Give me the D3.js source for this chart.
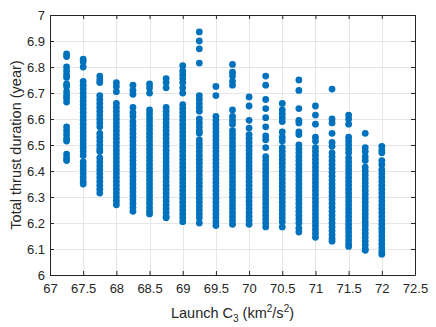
<!DOCTYPE html>
<html>
<head>
<meta charset="utf-8">
<script src="https://cdn.jsdelivr.net/npm/d3@7"></script>
<style>
  body { margin: 0; background: #fff; }
  svg { display: block; font-family: "Liberation Sans", Arial, sans-serif; }
</style>
</head>
<body>
<script>
// launch C3 values (one column of points each)
var c3Values = [67.25, 67.5, 67.75, 68, 68.25, 68.5, 68.75, 69, 69.25, 69.5,
                69.75, 70, 70.25, 70.5, 70.75, 71, 71.25, 71.5, 71.75, 72];

// total thrust duration (year)
var dur6725 = [6.85, 6.84, 6.80, 6.785, 6.77, 6.76, 6.735, 6.725, 6.705, 6.69, 6.68, 6.665,
               6.57, 6.555, 6.54, 6.525, 6.515, 6.465, 6.45, 6.44];
var dur6750 = [6.83, 6.82, 6.80, 6.745, 6.73, 6.715, 6.70, 6.685, 6.67, 6.655, 6.64, 6.625,
               6.61, 6.595, 6.58, 6.565, 6.55, 6.535, 6.52, 6.505, 6.49, 6.475, 6.46,
               6.435, 6.42, 6.405, 6.39, 6.375, 6.36, 6.35];
var dur6775 = [6.765, 6.75, 6.74, 6.69, 6.675, 6.66, 6.645, 6.63, 6.615, 6.60, 6.585, 6.57,
               6.545, 6.53, 6.515, 6.50, 6.485, 6.475, 6.45, 6.435, 6.42, 6.405, 6.39,
               6.375, 6.36, 6.345, 6.33, 6.315];
var dur6800 = [6.74, 6.725, 6.705, 6.66, 6.645, 6.63, 6.615, 6.60, 6.585, 6.57, 6.555, 6.54,
               6.525, 6.51, 6.495, 6.48, 6.465, 6.45, 6.435, 6.42, 6.405, 6.39, 6.375,
               6.36, 6.345, 6.33, 6.315, 6.30, 6.285, 6.27];
var dur6825 = [6.73, 6.71, 6.695, 6.645, 6.625, 6.61, 6.59, 6.575, 6.56, 6.545, 6.53, 6.515,
               6.50, 6.485, 6.47, 6.455, 6.44, 6.425, 6.41, 6.395, 6.38, 6.365, 6.35,
               6.335, 6.32, 6.305, 6.29, 6.275, 6.26, 6.245];
var dur6850 = [6.735, 6.72, 6.70, 6.635, 6.62, 6.605, 6.59, 6.575, 6.56, 6.545, 6.53, 6.515,
               6.50, 6.485, 6.47, 6.455, 6.44, 6.425, 6.41, 6.395, 6.38, 6.365, 6.35,
               6.335, 6.32, 6.305, 6.29, 6.275, 6.26, 6.245, 6.235];
var dur6875 = [6.755, 6.74, 6.72, 6.645, 6.63, 6.615, 6.60, 6.585, 6.57, 6.555, 6.54, 6.525,
               6.51, 6.495, 6.48, 6.465, 6.45, 6.435, 6.42, 6.405, 6.39, 6.375, 6.36,
               6.345, 6.33, 6.315, 6.30, 6.285, 6.27, 6.255, 6.24, 6.225, 6.22];
var dur6900 = [6.805, 6.785, 6.77, 6.755, 6.74, 6.72, 6.70, 6.655, 6.64, 6.625, 6.61, 6.595,
               6.58, 6.565, 6.55, 6.535, 6.52, 6.505, 6.49, 6.475, 6.46, 6.445, 6.43,
               6.415, 6.40, 6.385, 6.37, 6.355, 6.34, 6.325, 6.31, 6.295, 6.28, 6.265,
               6.25, 6.235, 6.22, 6.205];
var dur6925 = [6.935, 6.90, 6.87, 6.815, 6.69, 6.675, 6.66, 6.645, 6.63, 6.60, 6.585, 6.57,
               6.555, 6.545, 6.52, 6.505, 6.49, 6.475, 6.46, 6.445, 6.43, 6.415, 6.40,
               6.385, 6.37, 6.355, 6.34, 6.325, 6.31, 6.295, 6.28, 6.265, 6.25, 6.235,
               6.22, 6.20];
var dur6950 = [6.725, 6.69, 6.61, 6.595, 6.58, 6.565, 6.55, 6.535, 6.52, 6.505, 6.49, 6.475,
               6.46, 6.445, 6.43, 6.415, 6.40, 6.385, 6.37, 6.355, 6.34, 6.325, 6.31,
               6.295, 6.28, 6.265, 6.25, 6.235, 6.22, 6.205, 6.19];
var dur6975 = [6.81, 6.78, 6.765, 6.745, 6.73, 6.635, 6.61, 6.595, 6.58, 6.555, 6.54, 6.525,
               6.51, 6.495, 6.48, 6.465, 6.45, 6.435, 6.42, 6.405, 6.39, 6.375, 6.36,
               6.345, 6.33, 6.315, 6.30, 6.285, 6.27, 6.255, 6.24, 6.225, 6.21, 6.195];
var dur7000 = [6.685, 6.65, 6.595, 6.565, 6.54, 6.525, 6.51, 6.495, 6.48, 6.465, 6.45, 6.435,
               6.42, 6.405, 6.39, 6.375, 6.36, 6.345, 6.33, 6.315, 6.30, 6.285, 6.27,
               6.255, 6.24, 6.225, 6.21, 6.195];
var dur7025 = [6.765, 6.73, 6.675, 6.64, 6.605, 6.57, 6.535, 6.52, 6.49, 6.455, 6.44, 6.425,
               6.41, 6.395, 6.38, 6.365, 6.35, 6.335, 6.32, 6.305, 6.29, 6.275, 6.26,
               6.245, 6.23, 6.215, 6.20, 6.185];
var dur7050 = [6.66, 6.635, 6.62, 6.605, 6.59, 6.55, 6.53, 6.515, 6.49, 6.475, 6.46, 6.445,
               6.43, 6.415, 6.40, 6.385, 6.37, 6.355, 6.34, 6.325, 6.31, 6.295, 6.28,
               6.265, 6.25, 6.235, 6.22, 6.205, 6.185];
var dur7075 = [6.75, 6.71, 6.64, 6.595, 6.585, 6.55, 6.54, 6.50, 6.485, 6.47, 6.455, 6.44,
               6.425, 6.41, 6.395, 6.38, 6.365, 6.35, 6.335, 6.32, 6.305, 6.29, 6.275,
               6.26, 6.245, 6.23, 6.215, 6.20, 6.18, 6.165];
var dur7100 = [6.65, 6.615, 6.58, 6.53, 6.515, 6.49, 6.475, 6.46, 6.445, 6.43, 6.415, 6.40,
               6.385, 6.37, 6.355, 6.34, 6.325, 6.31, 6.295, 6.28, 6.265, 6.25, 6.235,
               6.22, 6.205, 6.19, 6.175, 6.16, 6.145];
var dur7125 = [6.715, 6.60, 6.585, 6.545, 6.51, 6.495, 6.47, 6.455, 6.44, 6.425, 6.41, 6.395,
               6.38, 6.365, 6.35, 6.335, 6.32, 6.305, 6.29, 6.275, 6.26, 6.245, 6.23,
               6.215, 6.20, 6.185, 6.17, 6.155, 6.14, 6.13];
var dur7150 = [6.615, 6.60, 6.58, 6.53, 6.515, 6.50, 6.485, 6.47, 6.45, 6.435, 6.42, 6.405,
               6.39, 6.375, 6.36, 6.345, 6.33, 6.315, 6.30, 6.285, 6.27, 6.255, 6.24,
               6.225, 6.21, 6.195, 6.18, 6.165, 6.15, 6.135, 6.12, 6.11];
var dur7175 = [6.545, 6.49, 6.475, 6.455, 6.44, 6.415, 6.40, 6.385, 6.37, 6.355, 6.34, 6.325,
               6.31, 6.295, 6.28, 6.265, 6.25, 6.235, 6.22, 6.205, 6.19, 6.175, 6.16,
               6.145, 6.13, 6.115, 6.10, 6.095];
var dur7200 = [6.495, 6.48, 6.47, 6.44, 6.425, 6.405, 6.39, 6.375, 6.36, 6.345, 6.33, 6.315,
               6.30, 6.285, 6.27, 6.255, 6.24, 6.225, 6.21, 6.195, 6.18, 6.165, 6.15,
               6.135, 6.12, 6.105, 6.09, 6.08];

var durations = [dur6725, dur6750, dur6775, dur6800, dur6825, dur6850, dur6875, dur6900,
                 dur6925, dur6950, dur6975, dur7000, dur7025, dur7050, dur7075, dur7100,
                 dur7125, dur7150, dur7175, dur7200];

var xTicks = [67, 67.5, 68, 68.5, 69, 69.5, 70, 70.5, 71, 71.5, 72, 72.5];
var yTicks = [6, 6.1, 6.2, 6.3, 6.4, 6.5, 6.6, 6.7, 6.8, 6.9, 7];

// flatten into points
var data = [];
c3Values.forEach(function(c, i) {
  durations[i].forEach(function(v) {
    data.push({ C3: c, Duration: v });
  });
});

var w = 436;
var h = 327;
var margin = { left: 50, right: 21, top: 15, bottom: 52 };
var axisColor = "#262626";

var svg = d3.select("body")
  .append("svg")
  .attr("width", w)
  .attr("height", h);

var xScale = d3.scaleLinear()
  .domain([67, 72.5])
  .range([margin.left, w - margin.right]);

var yScale = d3.scaleLinear()
  .domain([6, 7])
  .range([h - margin.bottom, margin.top]);

var x0 = margin.left, x1 = w - margin.right;
var y0 = h - margin.bottom, y1 = margin.top;

// grid
svg.append("g")
  .selectAll("line.gx")
  .data(xTicks)
  .enter().append("line")
  .attr("x1", function(d) { return Math.round(xScale(d)) + 0.5; })
  .attr("x2", function(d) { return Math.round(xScale(d)) + 0.5; })
  .attr("y1", y0)
  .attr("y2", y1)
  .attr("stroke", "#e6e6e6");

svg.append("g")
  .selectAll("line.gy")
  .data(yTicks)
  .enter().append("line")
  .attr("y1", function(d) { return Math.round(yScale(d)) + 0.5; })
  .attr("y2", function(d) { return Math.round(yScale(d)) + 0.5; })
  .attr("x1", x0)
  .attr("x2", x1)
  .attr("stroke", "#e6e6e6");

// points
svg.append("g")
  .selectAll("circle")
  .data(data)
  .enter().append("circle")
  .attr("cx", function(d) { return xScale(d.C3); })
  .attr("cy", function(d) { return yScale(d.Duration); })
  .attr("r", 3.4)
  .attr("fill", "#0072BD");

// axes, MATLAB style: inward ticks on all sides
var tickLen = 4;
var xAxis = d3.axisBottom(xScale).tickValues(xTicks).tickSizeInner(-tickLen).tickSizeOuter(0)
  .tickPadding(9).tickFormat(d3.format("~g"));
var yAxis = d3.axisLeft(yScale).tickValues(yTicks).tickSizeInner(-tickLen).tickSizeOuter(0)
  .tickPadding(5).tickFormat(d3.format("~g"));
var xTop = d3.axisTop(xScale).tickValues(xTicks).tickSizeInner(-tickLen).tickSizeOuter(0).tickFormat("");
var yRight = d3.axisRight(yScale).tickValues(yTicks).tickSizeInner(-tickLen).tickSizeOuter(0).tickFormat("");

function styleAxis(g) {
  g.select(".domain").attr("stroke", axisColor);
  g.selectAll(".tick line").attr("stroke", axisColor);
  g.selectAll(".tick text")
    .attr("fill", axisColor)
    .style("font-size", "13px")
    .style("font-family", "'Liberation Sans', Arial, sans-serif");
}

svg.append("g")
  .attr("transform", "translate(0," + y0 + ")")
  .call(xAxis).call(styleAxis);
svg.append("g")
  .attr("transform", "translate(" + x0 + ",0)")
  .call(yAxis).call(styleAxis);
svg.append("g")
  .attr("transform", "translate(0," + y1 + ")")
  .call(xTop).call(styleAxis);
svg.append("g")
  .attr("transform", "translate(" + x1 + ",0)")
  .call(yRight).call(styleAxis);

// x label with sub/superscripts
var xl = svg.append("text")
  .attr("x", (x0 + x1) / 2)
  .attr("y", 318)
  .attr("text-anchor", "middle")
  .attr("fill", axisColor)
  .style("font-size", "14.5px");
xl.append("tspan").text("Launch C");
xl.append("tspan").attr("dy", 4).style("font-size", "10px").text("3");
xl.append("tspan").attr("dy", -4).text(" (km");
xl.append("tspan").attr("dy", -6).style("font-size", "10px").text("2");
xl.append("tspan").attr("dy", 6).text("/s");
xl.append("tspan").attr("dy", -6).style("font-size", "10px").text("2");
xl.append("tspan").attr("dy", 6).text(")");

// y label
svg.append("text")
  .attr("transform", "translate(21," + ((y0 + y1) / 2) + ") rotate(-90)")
  .attr("text-anchor", "middle")
  .attr("fill", axisColor)
  .style("font-size", "14.5px")
  .text("Total thrust duration (year)");
</script>
</body>
</html>
